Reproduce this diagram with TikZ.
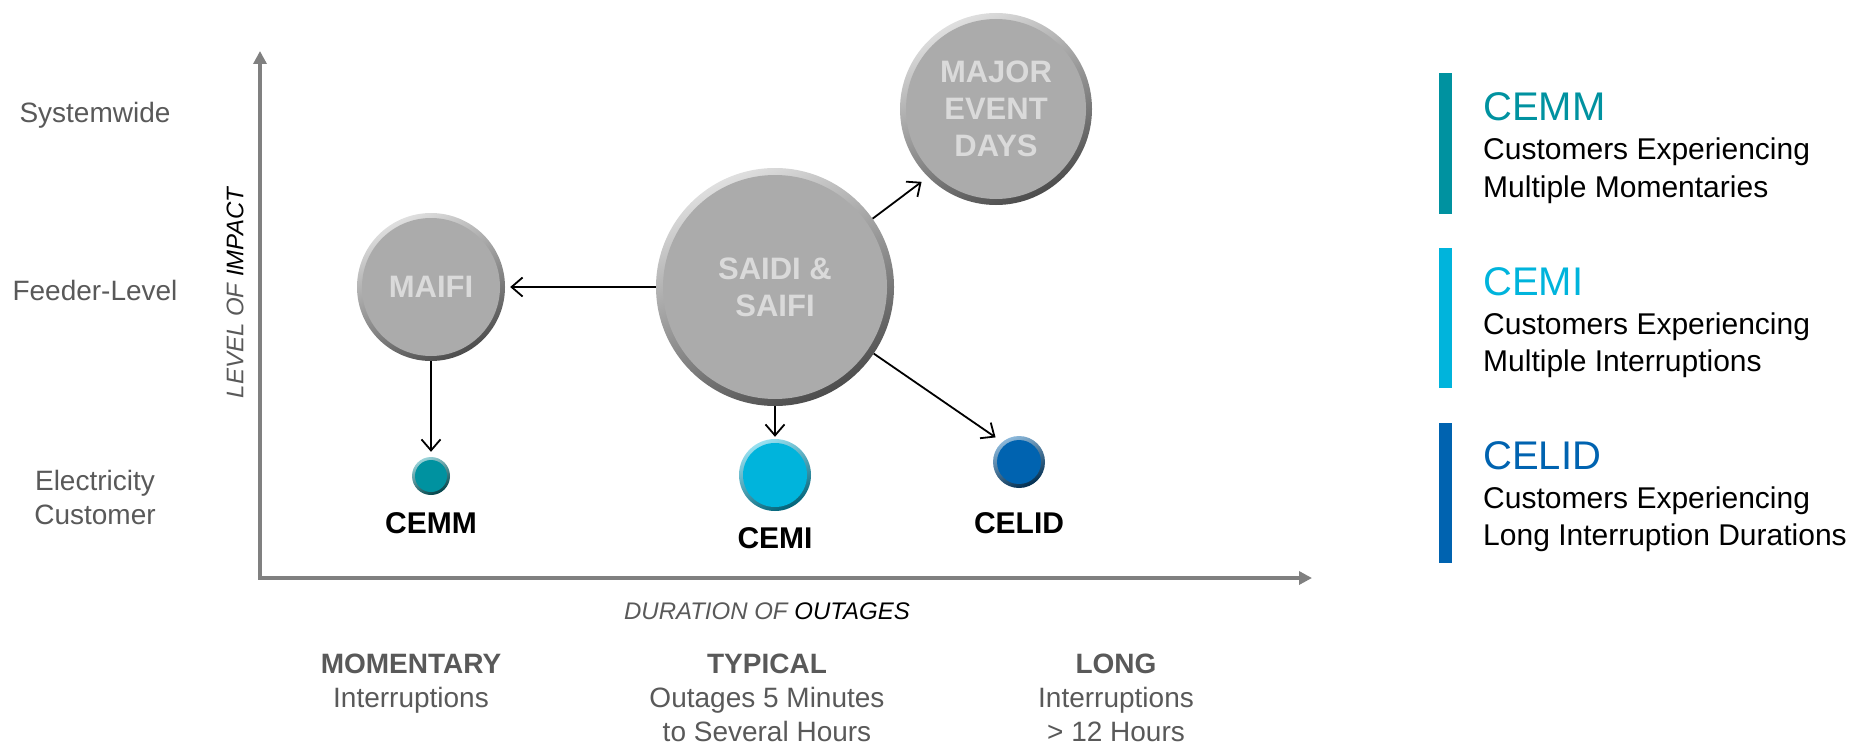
\documentclass[tikz,border=0pt]{standalone}
\usepackage{fontspec}
\setmainfont{Liberation Sans}
\usetikzlibrary{arrows.meta}
\definecolor{axisgray}{HTML}{808080}
\definecolor{txtgray}{HTML}{595959}
\definecolor{cemmcol}{HTML}{0092A0}
\definecolor{cemicol}{HTML}{00B4DC}
\definecolor{celidcol}{HTML}{0063B0}
\definecolor{ballface}{HTML}{ABABAB}
\definecolor{balltext}{HTML}{DADADA}
% #1 centre, #2 outer radius, #3 inner radius, #4 light, #5 face, #6 dark
\newcommand\mybead[6]{%
  \shade[top color=#4, bottom color=#6, shading angle=25] (#1) circle (#2);
  \fill[#5] (#1) circle (#3);
}
\begin{document}
\begin{tikzpicture}[x=1pt,y=-1pt,
  lbl/.style={text=txtgray, font=\fontsize{28}{34}\selectfont, align=center, inner sep=0pt},
  bigball/.style={circle, inner sep=0pt, text=balltext, align=center,
     font=\fontsize{31}{37}\selectfont\bfseries},
  dot/.style={circle, inner sep=0pt},
  dotlbl/.style={font=\fontsize{30}{36}\selectfont\bfseries, text=black, inner sep=0pt},
  conn/.style={draw=black, line width=1.8pt, -{Straight Barb[length=11pt,width=19pt]}},
  axisline/.style={draw=axisgray, line width=4pt},
  headtxt/.style={anchor=base west, inner sep=0pt, font=\fontsize{40}{44}\selectfont},
  bodytxt/.style={anchor=base west, inner sep=0pt, text=black, font=\fontsize{30}{37}\selectfont},
  legbar/.style={line width=0pt}
]
\useasboundingbox (0,0) rectangle (1873,749);

% axes
\coordinate (origin) at (260,578);
\coordinate (ytop) at (260,51);
\coordinate (xend) at (1312,578);
\draw[axisline, {Triangle[length=13pt,width=13pt]}-{Triangle[length=13pt,width=13pt]}] (ytop) -- (origin) -- (xend);

% level labels
\node[lbl] (sysw) at (95,115) {Systemwide};
\node[lbl] (feeder) at (95,290) {Feeder-Level};
\node[lbl] (elec) at (95,497) {Electricity\\Customer};

\node[rotate=90, inner sep=0pt, font=\fontsize{24}{28}\selectfont\itshape] (levimp) at (235,293) {\textcolor{txtgray}{LEVEL OF} \textcolor{black}{IMPACT}};
\node[inner sep=0pt, font=\fontsize{24}{28}\selectfont\itshape] (duro) at (767,611) {\textcolor{txtgray}{DURATION OF} \textcolor{black}{OUTAGES}};

% duration categories
\node[lbl, anchor=north] (mom) at (411,654) {\textbf{MOMENTARY}\\Interruptions};
\node[lbl, anchor=north] (typ) at (767,654) {\textbf{TYPICAL}\\Outages 5 Minutes\\to Several Hours};
\node[lbl, anchor=north] (long) at (1116,654) {\textbf{LONG}\\Interruptions\\> 12 Hours};

% big grey balls
\mybead{431,287}{74pt}{69pt}{gray!25}{ballface}{black!70}
\mybead{775,287}{119pt}{112pt}{gray!25}{ballface}{black!70}
\mybead{996,109}{96pt}{90pt}{gray!25}{ballface}{black!70}
\node[bigball, minimum size=148pt] (maifi) at (431,287) {MAIFI};
\node[bigball, minimum size=238pt] (saidi) at (775,287) {SAIDI \&\\SAIFI};
\node[bigball, minimum size=192pt] (major) at (996,109) {MAJOR\\EVENT\\DAYS};

% small coloured dots
\mybead{431,476}{19pt}{16pt}{cemmcol!40!white}{cemmcol}{cemmcol!45!black}
\mybead{775,475}{36pt}{32pt}{cemicol!40!white}{cemicol}{cemicol!55!black}
\mybead{1019,462}{26pt}{22pt}{celidcol!45!white}{celidcol}{celidcol!45!black}
\node[dot, minimum size=38pt] (cemm) at (431,476) {};
\node[dot, minimum size=72pt] (cemi) at (775,475) {};
\node[dot, minimum size=52pt] (celid) at (1019,462) {};
\node[dotlbl] (cemmlbl) at (431,523) {CEMM};
\node[dotlbl] (cemilbl) at (775,538) {CEMI};
\node[dotlbl] (celidlbl) at (1019,523) {CELID};

% connectors
\draw[conn, shorten >=5pt] (saidi.west) -- (maifi.east);
\draw[conn, shorten >=5pt] (maifi.south) -- (cemm.north);
\draw[conn, shorten >=2pt] (saidi.south) -- (cemi.north);
\draw[conn, shorten >=8pt] (saidi.35) -- (major.225);
\draw[conn, shorten >=8pt] (saidi.-34) -- (celid.130);

% legend
\fill[cemmcol] (1439,73) rectangle (1452,214);
\fill[cemicol] (1439,248) rectangle (1452,388);
\fill[celidcol] (1439,423) rectangle (1452,563);
\node[headtxt, text=cemmcol] (h1) at (1483,121) {CEMM};
\node[bodytxt] (b1a) at (1483,159) {Customers Experiencing};
\node[bodytxt] (b1b) at (1483,197) {Multiple Momentaries};
\node[headtxt, text=cemicol] (h2) at (1483,295) {CEMI};
\node[bodytxt] (b2a) at (1483,334) {Customers Experiencing};
\node[bodytxt] (b2b) at (1483,371) {Multiple Interruptions};
\node[headtxt, text=celidcol] (h3) at (1483,469) {CELID};
\node[bodytxt] (b3a) at (1483,508) {Customers Experiencing};
\node[bodytxt] (b3b) at (1483,545) {Long Interruption Durations};
\end{tikzpicture}
\end{document}
